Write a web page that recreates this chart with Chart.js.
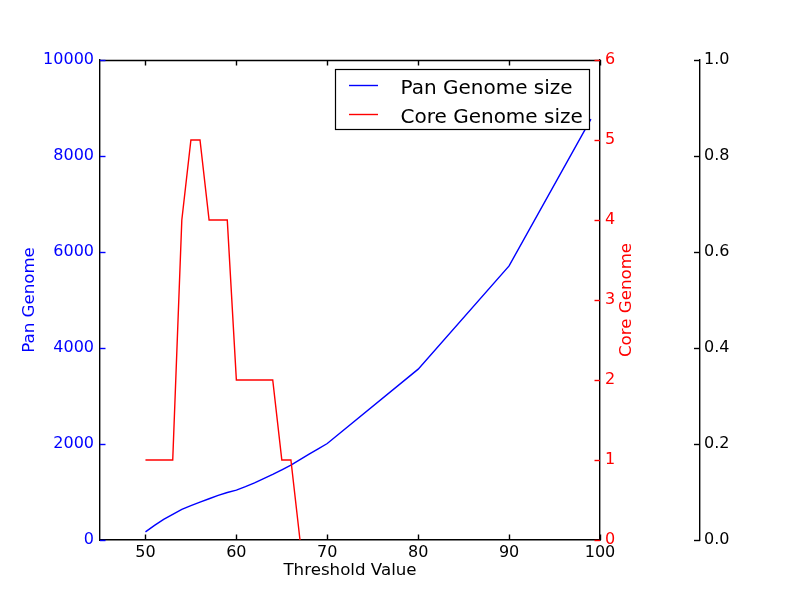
<!DOCTYPE html>
<html><head><meta charset="utf-8">
<script src="https://cdn.jsdelivr.net/npm/chart.js@4.4.0/dist/chart.umd.min.js"></script>
<style>html,body{margin:0;padding:0;background:#fff}canvas{display:block}</style>
</head><body>
<canvas id="c" width="800" height="600"></canvas>
<script>
// ---- data ----
const panThresholds = [50,51,52,53,54,55,56,57,58,59,60,61,62,63,64,65,66,67,68,69,70,80,90,99];
const panSizes = [170,306,431,535,640,715,790,860,930,990,1040,1110,1190,1280,1365,1460,1560,1675,1790,1900,2010,3560,5710,8770];
const coreThresholds = [50,51,52,53,54,55,56,57,58,59,60,61,62,63,64,65,66,67];
const coreSizes = [1,1,1,1,4,5,5,4,4,4,2,2,2,2,2,1,1,0];
const xTicks = [50,60,70,80,90,100];
const panTicks = [0,2000,4000,6000,8000,10000];
const coreTicks = [0,1,2,3,4,5,6];
const extraTicks = [0,0.2,0.4,0.6,0.8,1.0];
const seriesLabels = ['Pan Genome size','Core Genome size'];
const xTitle = 'Threshold Value';
const panTitle = 'Pan Genome';
const coreTitle = 'Core Genome';

const FONT = 'DejaVu Sans';
const TICK_SIZE = 16;
const TITLE_SIZE = 16.67;
const BLUE = '#0000ff', RED = '#ff0000', BLACK = '#000000';
const LW = 1.4;

function fixedTicks(arr){ return function(scale){ scale.ticks = arr.map(v => ({value: v})); }; }
function pts(xs, ys){ return xs.map((x, i) => ({x: x, y: ys[i]})); }

const decor = {
  id: 'decor',
  beforeDraw(chart){
    const ctx = chart.ctx;
    ctx.save(); ctx.fillStyle = '#fff'; ctx.fillRect(0,0,chart.width,chart.height); ctx.restore();
  },
  afterDraw(chart){
    const ctx = chart.ctx, a = chart.chartArea;
    const sx = chart.scales.x, sy = chart.scales.y, s1 = chart.scales.y1, s2 = chart.scales.y2;
    const TL = 5.5;
    ctx.save();
    ctx.lineWidth = LW;
    // top spine
    ctx.strokeStyle = BLACK;
    ctx.beginPath(); ctx.moveTo(a.left, Math.round(a.top)+0.5); ctx.lineTo(a.right, Math.round(a.top)+0.5); ctx.stroke();
    // x ticks (inward, bottom & top)
    sx.ticks.forEach(t => {
      const p = Math.round(sx.getPixelForValue(t.value)) + 0.5;
      ctx.beginPath();
      ctx.moveTo(p, a.bottom); ctx.lineTo(p, a.bottom - TL);
      ctx.moveTo(p, a.top); ctx.lineTo(p, a.top + TL);
      ctx.stroke();
    });
    // left ticks
    ctx.strokeStyle = BLUE;
    sy.ticks.forEach(t => {
      const p = Math.round(sy.getPixelForValue(t.value)) + 0.5;
      ctx.beginPath(); ctx.moveTo(a.left, p); ctx.lineTo(a.left + TL, p); ctx.stroke();
    });
    // right (core) ticks
    ctx.strokeStyle = RED;
    s1.ticks.forEach(t => {
      const p = Math.round(s1.getPixelForValue(t.value)) + 0.5;
      ctx.beginPath(); ctx.moveTo(a.right, p); ctx.lineTo(a.right - TL, p); ctx.stroke();
    });
    // third axis ticks
    ctx.strokeStyle = BLACK;
    s2.ticks.forEach(t => {
      const p = Math.round(s2.getPixelForValue(t.value)) + 0.5;
      ctx.beginPath(); ctx.moveTo(s2.left, p); ctx.lineTo(s2.left - TL - 0.5, p); ctx.stroke();
    });
    // core axis title (reads bottom to top)
    ctx.fillStyle = RED;
    ctx.font = TITLE_SIZE + 'px "' + FONT + '"';
    ctx.textAlign = 'center'; ctx.textBaseline = 'middle';
    ctx.translate(s1.left + 27, (a.top + a.bottom) / 2);
    ctx.rotate(-Math.PI / 2);
    ctx.fillText(coreTitle, 0, 0);
    ctx.restore();

    // legend
    ctx.save();
    const lx = 335.5, ly = 69.5, lw = 254, lh = 60;
    ctx.fillStyle = '#fff'; ctx.fillRect(lx, ly, lw, lh);
    ctx.strokeStyle = BLACK; ctx.lineWidth = 1.2; ctx.strokeRect(lx, ly, lw, lh);
    ctx.font = '20px "' + FONT + '"';
    ctx.textAlign = 'left'; ctx.textBaseline = 'alphabetic';
    chart.data.datasets.forEach((ds, i) => {
      const yy = 85.5 + i * 29;
      ctx.strokeStyle = ds.borderColor; ctx.lineWidth = LW;
      ctx.beginPath(); ctx.moveTo(349, yy); ctx.lineTo(378, yy); ctx.stroke();
      ctx.fillStyle = BLACK;
      ctx.fillText(ds.label, 400.5, yy + 8.3);
    });
    ctx.restore();
  }
};

new Chart(document.getElementById('c'), {
  type: 'line',
  data: {
    datasets: [
      { label: seriesLabels[0], data: pts(panThresholds, panSizes), yAxisID: 'y',
        borderColor: BLUE, backgroundColor: BLUE, borderWidth: LW, pointRadius: 0, tension: 0, fill: false, order: 1 },
      { label: seriesLabels[1], data: pts(coreThresholds, coreSizes), yAxisID: 'y1',
        borderColor: RED, backgroundColor: RED, borderWidth: LW, pointRadius: 0, tension: 0, fill: false, order: 0 }
    ]
  },
  options: {
    responsive: false, devicePixelRatio: 1, animation: false,
    layout: { padding: { top: 60, left: 0, right: 0, bottom: 0 } },
    plugins: { legend: { display: false }, tooltip: { enabled: false } },
    scales: {
      x: {
        type: 'linear', position: 'bottom', min: 45, max: 100,
        afterBuildTicks: fixedTicks(xTicks),
        afterFit: s => { s.height = 60; },
        grid: { display: false, drawTicks: false },
        border: { display: true, color: BLACK, width: LW },
        ticks: { color: BLACK, font: { family: FONT, size: TICK_SIZE }, padding: 3.5, autoSkip: false, maxRotation: 0, callback: v => String(v) },
        title: { display: true, text: xTitle, color: BLACK, font: { family: FONT, size: TITLE_SIZE }, padding: { top: 0, bottom: 19.5 } }
      },
      y: {
        type: 'linear', position: 'left', min: 0, max: 10000,
        afterBuildTicks: fixedTicks(panTicks),
        afterFit: s => { s.width = 100; },
        grid: { display: false, drawTicks: false },
        border: { display: true, color: BLACK, width: LW },
        ticks: { color: BLUE, font: { family: FONT, size: TICK_SIZE }, padding: 6, autoSkip: false, callback: v => String(v) },
        title: { display: true, text: panTitle, color: BLUE, font: { family: FONT, size: TITLE_SIZE }, padding: { top: 20, bottom: 0 } }
      },
      y1: {
        type: 'linear', position: 'right', min: 0, max: 6, weight: 0,
        afterBuildTicks: fixedTicks(coreTicks),
        afterFit: s => { s.width = 100; },
        grid: { display: false, drawTicks: false },
        border: { display: true, color: BLACK, width: LW },
        ticks: { color: RED, font: { family: FONT, size: TICK_SIZE }, padding: 5, autoSkip: false, callback: v => String(v) }
      },
      y2: {
        type: 'linear', position: 'right', min: 0, max: 1, weight: 1, display: true,
        afterBuildTicks: fixedTicks(extraTicks),
        afterFit: s => { s.width = 100; },
        grid: { display: false, drawTicks: false },
        border: { display: true, color: BLACK, width: LW },
        ticks: { color: BLACK, font: { family: FONT, size: TICK_SIZE }, padding: 4, autoSkip: false, callback: v => Number(v).toFixed(1) }
      }
    }
  },
  plugins: [decor]
});
</script>
</body></html>
